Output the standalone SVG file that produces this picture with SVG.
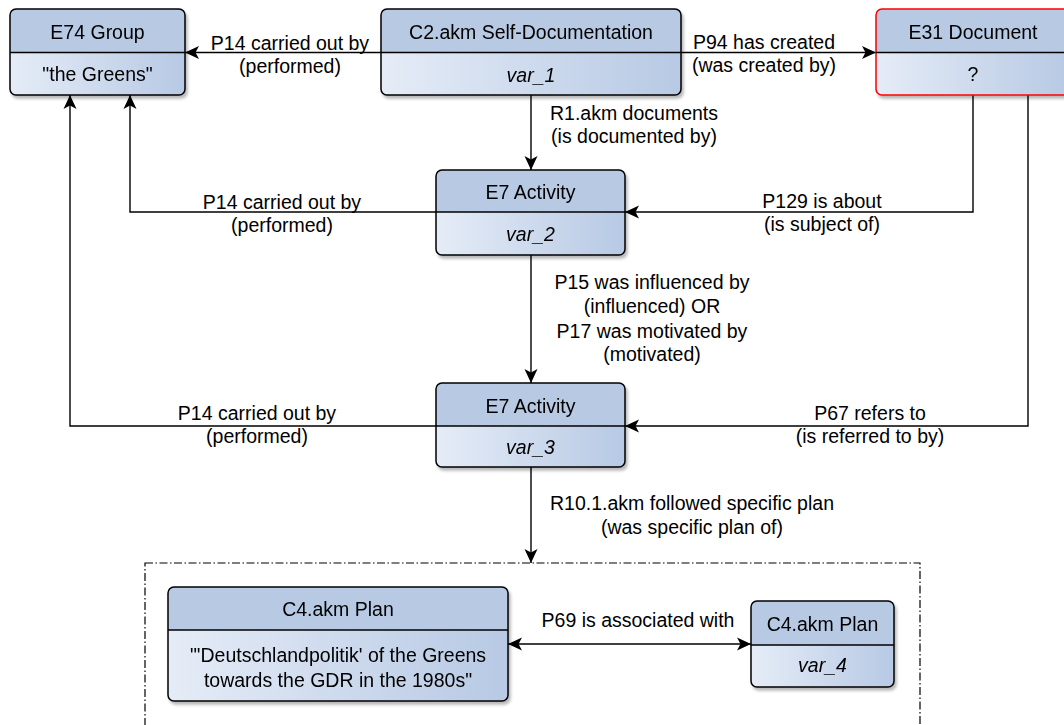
<svg xmlns="http://www.w3.org/2000/svg" width="1064" height="725" viewBox="0 0 1064 725">
<style>
text{font-family:"Liberation Sans",Arial,Helvetica,sans-serif;font-size:19.5px;fill:#000;text-anchor:middle}
.it{font-style:italic}
.title{fill:#b8c9e4}
.body{fill:url(#bodyGrad)}
.outline{fill:none;stroke:#000;stroke-width:1.5}
.red{stroke:#ff0000}
.div{stroke:#000;stroke-width:1.5}
.edge{fill:none;stroke:#000;stroke-width:1.4}
.arr{marker-end:url(#arrow)}
.dbl{marker-end:url(#arrow);marker-start:url(#arrow)}
.cont{fill:none;stroke:#000;stroke-width:1.2;stroke-dasharray:8 2.5 1.5 2.5}
</style>
<defs>
<linearGradient id="bodyGrad" x1="0" y1="0" x2="1" y2="0">
<stop offset="0" stop-color="#e5ecf7"/>
<stop offset="1" stop-color="#b7c9e4"/>
</linearGradient>
<filter id="shadow" x="-10%" y="-10%" width="130%" height="140%">
<feDropShadow dx="2" dy="3" stdDeviation="1.6" flood-color="#000" flood-opacity="0.28"/>
</filter>
<marker id="arrow" viewBox="0 0 14 14" refX="14" refY="7" markerWidth="14" markerHeight="14" markerUnits="userSpaceOnUse" orient="auto-start-reverse">
<path d="M0,0.5 L14,7 L0,13.5 L3.5,7 Z" fill="#000"/>
</marker>
</defs>

<rect id="plan-container" class="cont" x="145" y="563" width="775" height="220"/>

<g id="connectors">
<path class="edge arr" d="M381,52.5 H185"/>
<path class="edge arr" d="M681,52.5 H876"/>
<path class="edge arr" d="M531,95 V170"/>
<path class="edge arr" d="M436,212 H130 V95"/>
<path class="edge arr" d="M973,95 V212 H625"/>
<path class="edge arr" d="M531,255 V383"/>
<path class="edge arr" d="M436,426 H70 V95"/>
<path class="edge arr" d="M1028,95 V426 H625"/>
<path class="edge arr" d="M531,467 V563"/>
<path class="edge dbl" d="M508,644 H751"/>
<text x="290" y="49.5">P14 carried out by</text>
<text x="290" y="73">(performed)</text>
<text x="764" y="48.5">P94 has created</text>
<text x="764" y="72">(was created by)</text>
<text x="634" y="119.5">R1.akm documents</text>
<text x="634" y="142.5">(is documented by)</text>
<text x="282" y="208.5">P14 carried out by</text>
<text x="282" y="231.5">(performed)</text>
<text x="822" y="208">P129 is about</text>
<text x="822" y="231">(is subject of)</text>
<text x="652" y="289">P15 was influenced by</text>
<text x="652" y="313">(influenced) OR</text>
<text x="652" y="337.5">P17 was motivated by</text>
<text x="652" y="361">(motivated)</text>
<text x="257" y="420">P14 carried out by</text>
<text x="257" y="443">(performed)</text>
<text x="870" y="420">P67 refers to</text>
<text x="870" y="443">(is referred to by)</text>
<text x="692" y="510">R10.1.akm followed specific plan</text>
<text x="692" y="534">(was specific plan of)</text>
<text x="638" y="627">P69 is associated with</text>
</g>

<g id="e74-group" filter="url(#shadow)">
<rect class="title" x="10" y="9" width="175" height="86" rx="6"/>
<path class="body" d="M10,52.5 H185 V89 Q185,95 179,95 H16 Q10,95 10,89 Z"/>
<rect class="outline" x="10" y="9" width="175" height="86" rx="6"/>
<line class="div" x1="10" y1="52.5" x2="185" y2="52.5"/>
<text x="97.5" y="39.3">E74 Group</text>
<text x="97.5" y="81">"the Greens"</text>
</g>

<g id="c2-self-documentation" filter="url(#shadow)">
<rect class="title" x="381" y="9" width="300" height="86" rx="6"/>
<path class="body" d="M381,52.5 H681 V89 Q681,95 675,95 H387 Q381,95 381,89 Z"/>
<rect class="outline" x="381" y="9" width="300" height="86" rx="6"/>
<line class="div" x1="381" y1="52.5" x2="681" y2="52.5"/>
<text x="531" y="39.3">C2.akm Self-Documentation</text>
<text class="it" x="531" y="81.5">var_1</text>
</g>

<g id="e31-document" filter="url(#shadow)">
<rect class="title" x="876" y="9" width="194" height="86" rx="6"/>
<path class="body" d="M876,52.5 H1070 V89 Q1070,95 1064,95 H882 Q876,95 876,89 Z"/>
<rect class="outline red" x="876" y="9" width="194" height="86" rx="6"/>
<line class="div red" x1="876" y1="52.5" x2="1070" y2="52.5"/>
<text x="973" y="39.3">E31 Document</text>
<text x="973" y="81">?</text>
</g>

<g id="e7-activity-var2" filter="url(#shadow)">
<rect class="title" x="436" y="170" width="189" height="85" rx="6"/>
<path class="body" d="M436,212 H625 V249 Q625,255 619,255 H442 Q436,255 436,249 Z"/>
<rect class="outline" x="436" y="170" width="189" height="85" rx="6"/>
<line class="div" x1="436" y1="212" x2="625" y2="212"/>
<text x="530.5" y="199.3">E7 Activity</text>
<text class="it" x="530.5" y="241">var_2</text>
</g>

<g id="e7-activity-var3" filter="url(#shadow)">
<rect class="title" x="436" y="383" width="189" height="84" rx="6"/>
<path class="body" d="M436,426 H625 V461 Q625,467 619,467 H442 Q436,467 436,461 Z"/>
<rect class="outline" x="436" y="383" width="189" height="84" rx="6"/>
<line class="div" x1="436" y1="426" x2="625" y2="426"/>
<text x="530.5" y="412.7">E7 Activity</text>
<text class="it" x="530.5" y="454.3">var_3</text>
</g>

<g id="c4-plan-deutschlandpolitik" filter="url(#shadow)">
<rect class="title" x="168" y="587" width="340" height="114" rx="6"/>
<path class="body" d="M168,630 H508 V695 Q508,701 502,701 H174 Q168,701 168,695 Z"/>
<rect class="outline" x="168" y="587" width="340" height="114" rx="6"/>
<line class="div" x1="168" y1="630" x2="508" y2="630"/>
<text x="338" y="616">C4.akm Plan</text>
<text x="338" y="662">"'Deutschlandpolitik' of the Greens</text>
<text x="338" y="686.5">towards the GDR in the 1980s"</text>
</g>

<g id="c4-plan-var4" filter="url(#shadow)">
<rect class="title" x="751" y="601" width="143" height="86" rx="6"/>
<path class="body" d="M751,645 H894 V681 Q894,687 888,687 H757 Q751,687 751,681 Z"/>
<rect class="outline" x="751" y="601" width="143" height="86" rx="6"/>
<line class="div" x1="751" y1="645" x2="894" y2="645"/>
<text x="822.5" y="631">C4.akm Plan</text>
<text class="it" x="822.5" y="672.3">var_4</text>
</g>
</svg>
